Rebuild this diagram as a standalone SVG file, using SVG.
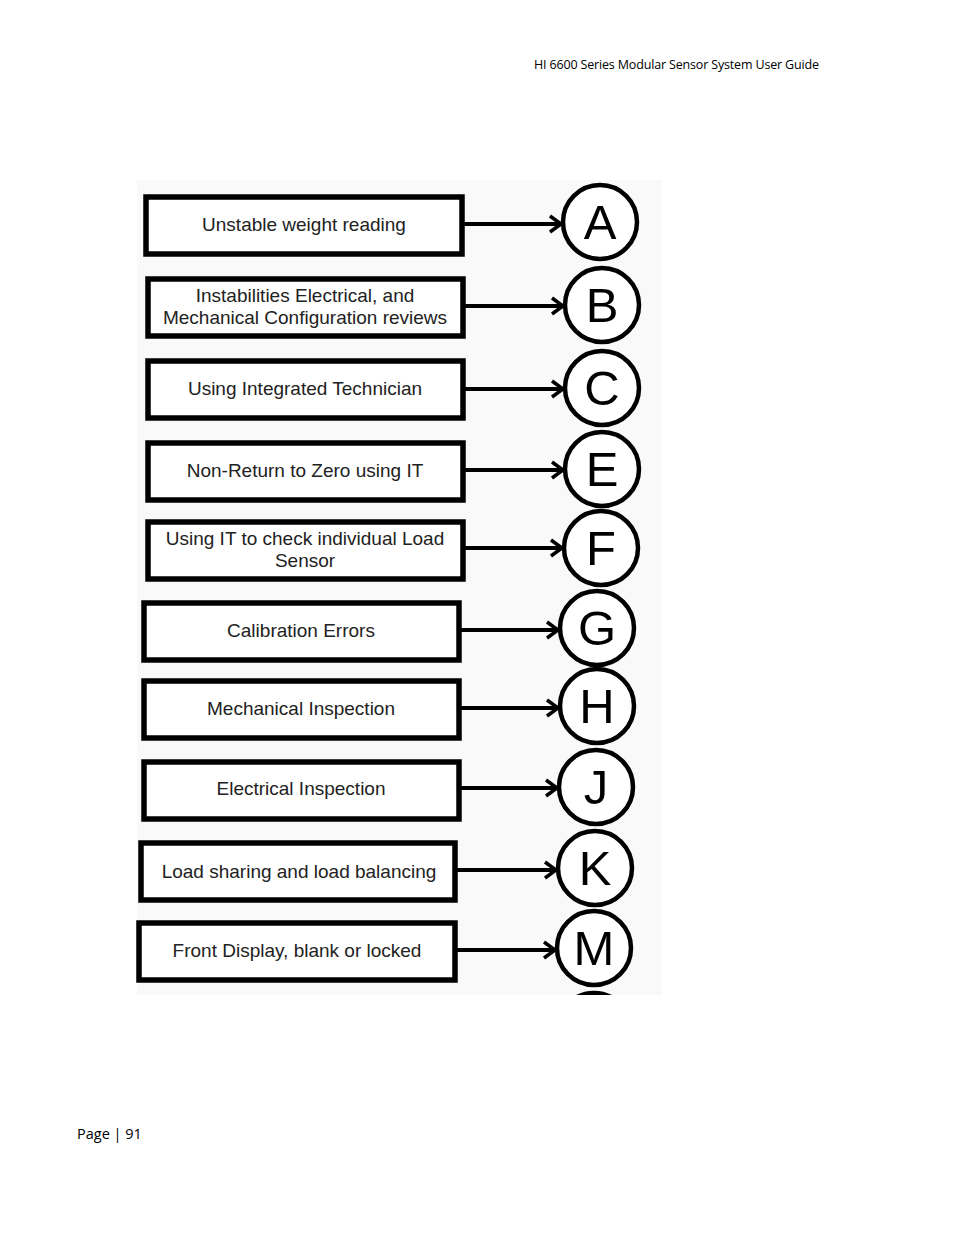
<svg xmlns="http://www.w3.org/2000/svg" width="954" height="1235" viewBox="0 0 954 1235">
<defs>
<style>
.box{fill:#fff;stroke:#000;stroke-width:5.5}
.lbl{font-family:"Liberation Sans",Arial,sans-serif;font-size:19px;fill:#222;text-anchor:middle}
.cir{fill:#fff;stroke:#000;stroke-width:4.5}
.let{font-family:"Liberation Sans",Arial,sans-serif;font-size:49px;fill:#000;text-anchor:middle}
.con{stroke:#000;stroke-width:4;fill:none}
.hdr{font-family:"Open Sans","Liberation Sans",sans-serif;font-size:12.5px;fill:#000}
</style>
<marker id="arr" viewBox="0 0 16 20" refX="13" refY="10" markerWidth="16" markerHeight="20" markerUnits="userSpaceOnUse" orient="auto">
<path d="M2,2 L13,10 L2,18" fill="none" stroke="#000" stroke-width="3.5"/>
</marker>
<clipPath id="clipImg"><rect x="137" y="180" width="525" height="815"/></clipPath>
</defs>
<rect width="954" height="1235" fill="#fff"/>
<text class="hdr" x="534" y="69" textLength="285">HI 6600 Series Modular Sensor System User Guide</text>
<rect x="137" y="180" width="525" height="815" fill="#f9f9f9"/>
<g id="connectors">
<line class="con" x1="463" y1="224" x2="561" y2="224" marker-end="url(#arr)"/>
<line class="con" x1="464" y1="306" x2="563" y2="306" marker-end="url(#arr)"/>
<line class="con" x1="464" y1="389" x2="563" y2="389" marker-end="url(#arr)"/>
<line class="con" x1="464" y1="470" x2="563" y2="470" marker-end="url(#arr)"/>
<line class="con" x1="464" y1="548" x2="562" y2="548" marker-end="url(#arr)"/>
<line class="con" x1="460" y1="630" x2="558" y2="630" marker-end="url(#arr)"/>
<line class="con" x1="460" y1="708" x2="558" y2="708" marker-end="url(#arr)"/>
<line class="con" x1="460" y1="788" x2="557" y2="788" marker-end="url(#arr)"/>
<line class="con" x1="456" y1="870" x2="556" y2="870" marker-end="url(#arr)"/>
<line class="con" x1="456" y1="950" x2="555" y2="950" marker-end="url(#arr)"/>
</g>
<g id="nA"><rect class="box" x="146" y="197" width="316" height="57"/><text class="lbl" x="304" y="231">Unstable weight reading</text></g>
<g id="nB"><rect class="box" x="148" y="279" width="315" height="57"/><text class="lbl" x="305" y="302">Instabilities Electrical, and</text><text class="lbl" x="305" y="324">Mechanical Configuration reviews</text></g>
<g id="nC"><rect class="box" x="148" y="361" width="315" height="57"/><text class="lbl" x="305" y="395">Using Integrated Technician</text></g>
<g id="nE"><rect class="box" x="148" y="443" width="315" height="57"/><text class="lbl" x="305" y="477">Non-Return to Zero using IT</text></g>
<g id="nF"><rect class="box" x="148" y="522" width="315" height="57"/><text class="lbl" x="305" y="545">Using IT to check individual Load</text><text class="lbl" x="305" y="567">Sensor</text></g>
<g id="nG"><rect class="box" x="144" y="603" width="315" height="57"/><text class="lbl" x="301" y="637">Calibration Errors</text></g>
<g id="nH"><rect class="box" x="144" y="681" width="315" height="57"/><text class="lbl" x="301" y="715">Mechanical Inspection</text></g>
<g id="nJ"><rect class="box" x="144" y="762" width="315" height="57"/><text class="lbl" x="301" y="795">Electrical Inspection</text></g>
<g id="nK"><rect class="box" x="141" y="843" width="314" height="57"/><text class="lbl" x="299" y="878">Load sharing and load balancing</text></g>
<g id="nM"><rect class="box" x="139" y="923" width="316" height="57"/><text class="lbl" x="297" y="957">Front Display, blank or locked</text></g>
<g id="cA"><circle class="cir" cx="600" cy="222" r="37"/><text class="let" x="600" y="239">A</text></g>
<g id="cB"><circle class="cir" cx="602" cy="305" r="37"/><text class="let" x="602" y="322">B</text></g>
<g id="cC"><circle class="cir" cx="602" cy="388" r="37"/><text class="let" x="602" y="405">C</text></g>
<g id="cE"><circle class="cir" cx="602" cy="469" r="37"/><text class="let" x="602" y="486">E</text></g>
<g id="cF"><circle class="cir" cx="601" cy="548" r="37"/><text class="let" x="601" y="565">F</text></g>
<g id="cG"><circle class="cir" cx="597" cy="628" r="37"/><text class="let" x="597" y="645">G</text></g>
<g id="cH"><circle class="cir" cx="597" cy="706" r="37"/><text class="let" x="597" y="723">H</text></g>
<g id="cJ"><circle class="cir" cx="596" cy="787" r="37"/><text class="let" x="596" y="804">J</text></g>
<g id="cK"><circle class="cir" cx="595" cy="868" r="37"/><text class="let" x="595" y="885">K</text></g>
<g id="cM"><circle class="cir" cx="594" cy="948" r="37"/><text class="let" x="594" y="965">M</text></g>
<g id="cPartial" clip-path="url(#clipImg)"><circle class="cir" cx="594" cy="1030" r="37"/></g>
<text class="hdr" x="77" y="1139" style="font-size:14.5px">Page | 91</text>
</svg>
